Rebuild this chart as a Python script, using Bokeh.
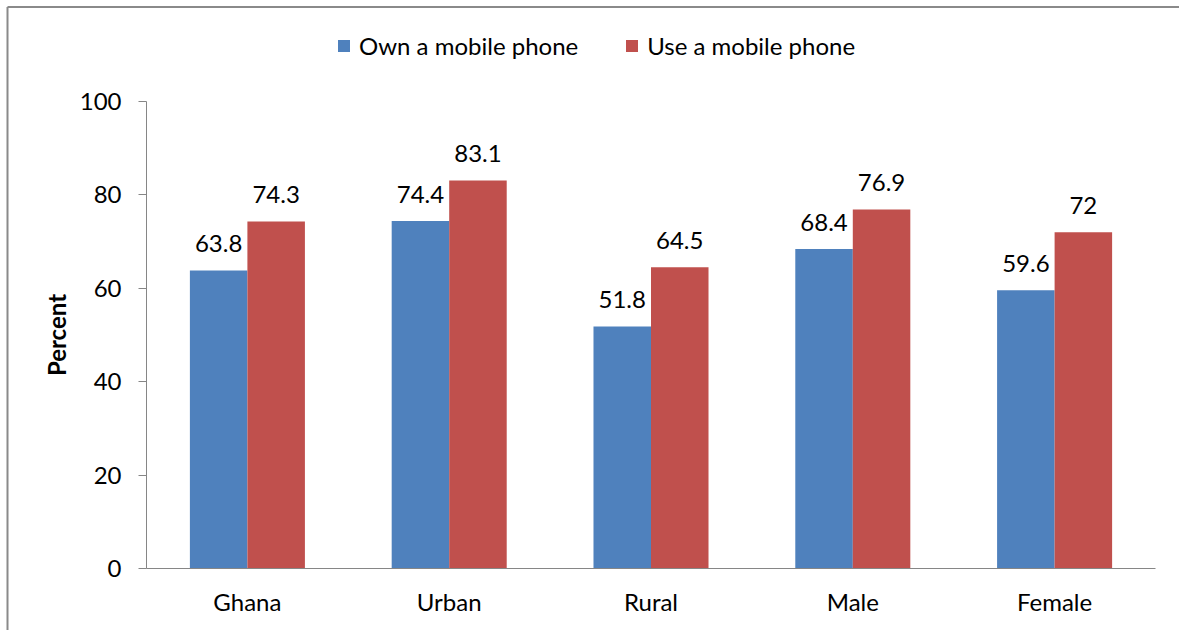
from bokeh.plotting import figure
from bokeh.models import (ColumnDataSource, Range1d, FixedTicker, LinearAxis,
                          LabelSet, Legend, LegendItem)
from bokeh.core.properties import value
from bokeh.transform import dodge
from bokeh.embed import file_html
from bokeh.resources import INLINE

categories = ["Ghana", "Urban", "Rural", "Male", "Female"]
own_phone = [63.8, 74.4, 51.8, 68.4, 59.6]
use_phone = [74.3, 83.1, 64.5, 76.9, 72.0]
series_names = ["Own a mobile phone", "Use a mobile phone"]
y_ticks = [0, 20, 40, 60, 80, 100]

BLUE = "#4F81BD"
RED = "#C0504D"
AXIS = "#868686"
FRAME_LINE = "#8a8a8a"
FONT = "Lato"
FS = "24px"

# layout (canvas pixels)
W, H = 1179, 630
X0_PX = 146          # left end of the category axis
CAT_PX = 201.8       # width of one category slot
Y0_PX = 568          # y = 0
PX_PER_UNIT = 4.67   # pixels per percent
BORDER_X, BORDER_Y = 7, 6.5


def to_x(px):
    return (px - X0_PX) / CAT_PX


def to_y(px):
    return (Y0_PX - px) / PX_PER_UNIT


positions = [i + 0.5 for i in range(len(categories))]

src = ColumnDataSource(dict(
    pos=positions,
    own=own_phone,
    use=use_phone,
    own_lbl=[f"{v:g}" for v in own_phone],
    use_lbl=[f"{v:g}" for v in use_phone],
))

p = figure(width=W, height=H, x_range=Range1d(to_x(0), to_x(W)),
           y_range=Range1d(to_y(H), to_y(0)), output_backend="svg", toolbar_location=None,
           x_axis_location=None, y_axis_location=None,
           min_border_left=0, min_border_right=0, min_border_top=0, min_border_bottom=0)

# chart-area border (left and top edges)
p.segment(x0=[to_x(BORDER_X), to_x(BORDER_X)], y0=[to_y(BORDER_Y), to_y(BORDER_Y)],
          x1=[to_x(W + 5), to_x(BORDER_X)], y1=[to_y(BORDER_Y), to_y(H + 5)],
          line_color=FRAME_LINE, line_width=2)

bw = 0.285
r_own = p.vbar(x=dodge("pos", -bw / 2), top="own", width=bw, bottom=0,
               source=src, fill_color=BLUE, line_color=None)
r_use = p.vbar(x=dodge("pos", bw / 2), top="use", width=bw, bottom=0,
               source=src, fill_color=RED, line_color=None)

for col, lbl, off in (("own", "own_lbl", -bw / 2), ("use", "use_lbl", bw / 2)):
    p.add_layout(LabelSet(x=dodge("pos", off), y=col, text=lbl, source=src,
                          text_align="center", text_baseline="middle", y_offset=27,
                          text_font=value(FONT), text_font_size=FS, text_color="black"))

p.xgrid.visible = False
p.ygrid.visible = False
p.outline_line_color = None
p.background_fill_color = "white"
p.border_fill_color = "white"

ya = LinearAxis(fixed_location=0, bounds=(0, 100), ticker=FixedTicker(ticks=y_ticks))
ya.axis_line_color = AXIS
ya.major_tick_line_color = AXIS
ya.major_tick_out = 8
ya.major_tick_in = 0
ya.minor_tick_line_color = None
ya.major_label_text_font = FONT
ya.major_label_text_font_size = FS
ya.major_label_text_color = "black"
ya.major_label_standoff = 17
ya.axis_label = "Percent"
ya.axis_label_text_font = FONT
ya.axis_label_text_font_style = "bold"
ya.axis_label_text_font_size = FS
ya.axis_label_text_color = "black"
ya.axis_label_standoff = 6
p.add_layout(ya, "left")

xa = LinearAxis(fixed_location=0, bounds=(0, len(categories)),
                ticker=FixedTicker(ticks=positions),
                major_label_overrides={pos: cat for pos, cat in zip(positions, categories)})
xa.axis_line_color = AXIS
xa.major_tick_line_color = None
xa.minor_tick_line_color = None
xa.major_label_text_font = FONT
xa.major_label_text_font_size = FS
xa.major_label_text_color = "black"
xa.major_label_standoff = 12
p.add_layout(xa, "below")

legend = Legend(items=[LegendItem(label=series_names[0], renderers=[r_own]),
                       LegendItem(label=series_names[1], renderers=[r_use])],
                orientation="horizontal", location=(336, H - 60),
                glyph_width=15, glyph_height=15, label_standoff=8, spacing=46,
                padding=0, margin=0, border_line_color=None, background_fill_alpha=0,
                label_text_font=FONT, label_text_font_size=FS, label_text_color="black")
p.add_layout(legend, "center")

open("out.html", "w").write(file_html(p, INLINE))
